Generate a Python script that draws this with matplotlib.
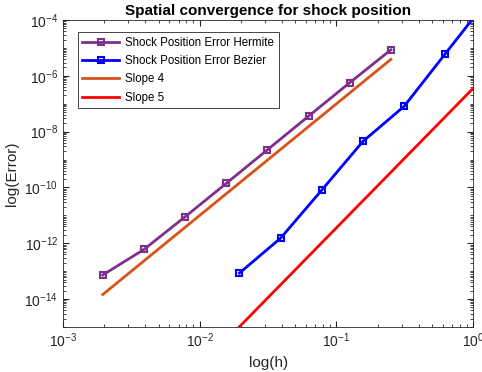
import numpy as np
import matplotlib
matplotlib.use('Agg')
import matplotlib.pyplot as plt
from matplotlib.ticker import LogLocator, NullFormatter

plt.rcParams['font.family'] = ['Liberation Sans', 'DejaVu Sans']
plt.rcParams['mathtext.fontset'] = 'custom'
plt.rcParams['mathtext.rm'] = 'Liberation Sans'
plt.rcParams['mathtext.it'] = 'Liberation Sans:italic'
plt.rcParams['mathtext.bf'] = 'Liberation Sans:bold'

# data
h_hermite = [1/512, 1/256, 1/128, 1/64, 1/32, 1/16, 1/8, 1/4]
err_hermite = [7.3e-14, 6.0e-13, 8.9e-12, 1.4e-10, 2.24e-9, 3.6e-8, 5.7e-7, 8.6e-6]

h_bezier = [5/256, 5/128, 5/64, 5/32, 5/16, 5/8, 5/4]
err_bezier = [8.6e-14, 1.53e-12, 8.1e-11, 4.5e-9, 8.1e-8, 6.2e-6, 4.7e-4]

c_slope4 = 1.0e-3
c_slope5 = 3.6e-7

h4 = np.array(h_hermite)
h5 = np.array(h_bezier)

purple = (0.494, 0.184, 0.556)
orange = (0.85, 0.325, 0.098)
dark = (0.15, 0.15, 0.15)

fig = plt.figure(figsize=(4.82, 3.72), dpi=100)
ax = fig.add_axes([0.1307, 0.121, 0.851, 0.825])

ax.loglog(h_hermite, err_hermite, '-s', color=purple, lw=2, ms=5,
          mfc='none', mew=1.5, label='Shock Position Error Hermite')
ax.loglog(h_bezier, err_bezier, '-s', color='blue', lw=2, ms=5,
          mfc='none', mew=1.5, markevery=list(range(len(h_bezier) - 1)),
          label='Shock Position Error Bezier')
ax.loglog(h4, c_slope4 * h4**4, '-', color=orange, lw=2, label='Slope 4')
ax.loglog(h5, c_slope5 * h5**5, '-', color='red', lw=2, label='Slope 5')

ax.set_xlim(1e-3, 1e0)
ax.set_ylim(1e-15, 1e-4)
ax.set_xticks([1e-3, 1e-2, 1e-1, 1e0])
ax.set_yticks([1e-14, 1e-12, 1e-10, 1e-8, 1e-6, 1e-4])
ax.xaxis.set_minor_locator(LogLocator(base=10, subs=np.arange(1, 10), numticks=50))
ax.yaxis.set_minor_locator(LogLocator(base=10, subs=np.arange(1, 10), numticks=50))
ax.xaxis.set_minor_formatter(NullFormatter())
ax.yaxis.set_minor_formatter(NullFormatter())

ax.tick_params(which='both', direction='in', top=True, right=True,
               colors=dark, labelsize=10)
ax.tick_params(which='major', length=4)
ax.tick_params(which='minor', length=2)
for sp in ax.spines.values():
    sp.set_color(dark)
    sp.set_linewidth(0.6)

ax.set_xlabel('log(h)', fontsize=11, color=dark)
ax.set_ylabel('log(Error)', fontsize=11, color=dark)
ax.set_title('Spatial convergence for shock position', fontsize=11,
             fontweight='bold', pad=4)

leg = ax.legend(loc='upper left', bbox_to_anchor=(0.036, 0.961), fontsize=8.3,
                fancybox=False, framealpha=1, edgecolor=dark,
                borderaxespad=0, handlelength=3.2, labelspacing=0.55,
                borderpad=0.4, handletextpad=0.5)
leg.get_frame().set_linewidth(0.6)

fig.savefig('out.png', dpi=100)
